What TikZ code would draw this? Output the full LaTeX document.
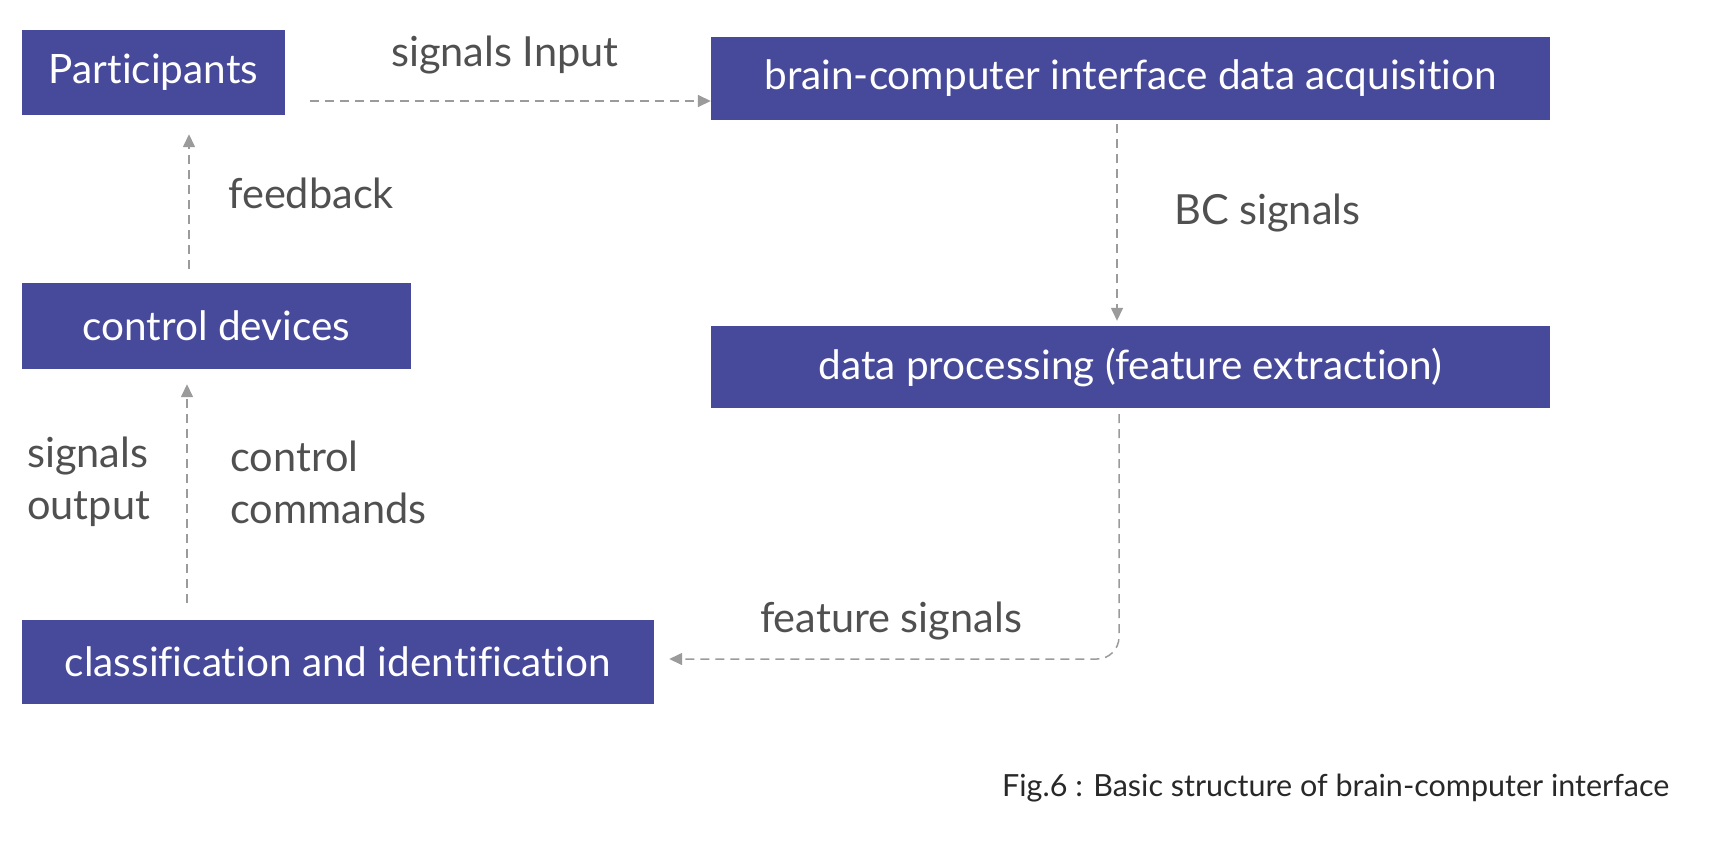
\documentclass[tikz,border=0pt]{standalone}
\usepackage{fontspec}
\setmainfont[Ligatures=NoCommon]{Lato}
\usetikzlibrary{arrows.meta,positioning,calc}
\definecolor{bBox}{RGB}{71,73,155}
\definecolor{bText}{RGB}{80,80,80}
\definecolor{bLine}{RGB}{155,155,155}
\definecolor{bCap}{RGB}{40,40,40}

\begin{document}
\begin{tikzpicture}[x=1pt, y=-1pt,
    box/.style={fill=bBox, text=white, font=\fontsize{40.5}{48}\selectfont, inner sep=0pt},
    lbl/.style={text=bText, font=\fontsize{41.5}{52}\selectfont, inner sep=0pt, align=left, anchor=west},
    flow/.style={draw=bLine, line width=1.5pt, dash pattern=on 9pt off 6pt, -{Triangle[length=13pt, width=12pt]}}]
    \useasboundingbox (0,0) rectangle (1720,846);

    \node[box, minimum width=263pt, minimum height=85pt] (part) at (153.5, 72.5) {Participants};
    \node[box, minimum width=839pt, minimum height=83pt] (acq) at (1130.5, 78.5) {brain-computer interface data acquisition};
    \node[box, minimum width=389pt, minimum height=86pt] (ctrl) at (216.5, 326) {control devices};
    \node[box, minimum width=839pt, minimum height=82pt] (proc) at (1130.5, 367) {data processing (feature extraction)};
    \node[box, minimum width=632pt, minimum height=84pt] (cls) at (338, 662) {classification and identification};

    % connectors
    \coordinate (si) at (310, 101);
    \coordinate (fb) at (189, 0);
    \coordinate (cc) at (187, 0);
    \coordinate (bc) at (1117, 0);
    \coordinate (fs) at (1119, 659);
    \draw[flow] (si) -- (acq.west |- si);
    \draw[flow, shorten <=14pt, shorten >=19pt] (ctrl.north -| fb) -- (part.south -| fb);
    \draw[flow, shorten <=17pt, shorten >=15pt] (cls.north -| cc) -- (ctrl.south -| cc);
    \draw[flow, shorten <=4pt, shorten >=5pt] (acq.south -| bc) -- (proc.north -| bc);
    \draw[flow, rounded corners=22pt, shorten <=6pt, shorten >=15pt] (proc.south -| fs) -- (fs) -- (cls.east |- fs);

    % labels
    \node[lbl, anchor=center] (lin) at (505, 55) {signals Input};
    \node[lbl] (lfb) at (228, 193) {feedback};
    \node[lbl] (lbc) at (1174, 213) {BC signals};
    \node[lbl] (lso) at (27, 482) {signals\\output};
    \node[lbl] (lcc) at (230, 482) {control\\commands};
    \node[lbl, anchor=center] (lfs) at (891, 621) {feature signals};
    \node[anchor=west, inner sep=0pt, text=bCap, font=\fontsize{30.5}{36}\selectfont] (cap) at (1002, 788) {Fig.6 : Basic structure of brain-computer interface};
\end{tikzpicture}
\end{document}
